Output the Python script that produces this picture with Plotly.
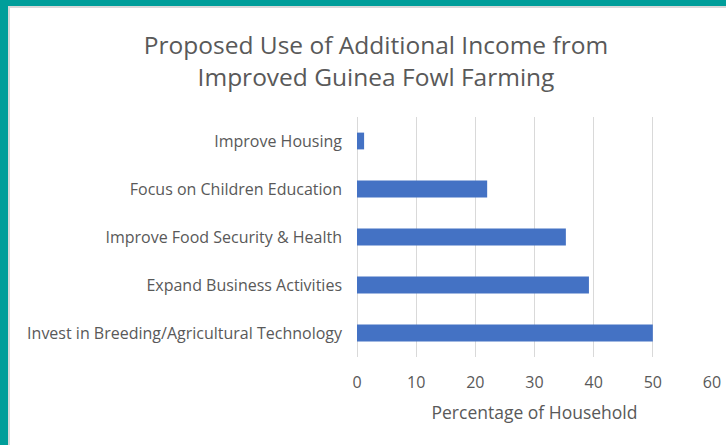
import plotly.graph_objects as go

categories = [
    "Invest in Breeding/Agricultural Technology",
    "Expand Business Activities",
    "Improve Food Security & Health",
    "Focus on Children Education",
    "Improve Housing",
]
values = [50.0, 39.2, 35.3, 22.0, 1.2]
x_ticks = [0, 10, 20, 30, 40, 50, 60]

W, H = 726, 445
L, R, T, B = 357, 14, 117, 88
pw, ph = W - L - R, H - T - B

def px_x(p):
    return (p - L) / pw

def px_y(p):
    return 1 - (p - T) / ph

fig = go.Figure(go.Bar(
    y=categories, x=values, orientation="h",
    marker=dict(color="#4472C4", line=dict(width=0)),
    width=0.35,
))

font = "Open Sans, Calibri, sans-serif"
teal = "#009E9A"
grid = "#D9D9D9"
shapes = [
    dict(type="rect", xref="paper", yref="paper", x0=px_x(0), x1=px_x(8), y0=px_y(445), y1=px_y(0),
         fillcolor=teal, line_width=0, layer="below"),
    dict(type="rect", xref="paper", yref="paper", x0=px_x(0), x1=px_x(726), y0=px_y(6), y1=px_y(0),
         fillcolor=teal, line_width=0, layer="below"),
    dict(type="rect", xref="paper", yref="paper", x0=px_x(8), x1=px_x(10), y0=px_y(445), y1=px_y(6),
         fillcolor=grid, line_width=0, layer="below"),
    dict(type="rect", xref="paper", yref="paper", x0=px_x(8), x1=px_x(726), y0=px_y(8), y1=px_y(6),
         fillcolor=grid, line_width=0, layer="below"),
]

fig.update_layout(
    width=W, height=H,
    margin=dict(l=L, r=R, t=T, b=B, autoexpand=False),
    paper_bgcolor="white", plot_bgcolor="white",
    showlegend=False,
    shapes=shapes,
    title=dict(
        text="Proposed Use of Additional Income from<br>Improved Guinea Fowl Farming",
        x=376 / W, xanchor="center",
        y=1 - 54 / H, yanchor="middle",
        font=dict(family=font, size=24.5, color="#595959"),
    ),
    xaxis=dict(
        range=[0, 60], tickvals=x_ticks, showgrid=True, gridcolor=grid, gridwidth=1.3,
        zeroline=True, zerolinecolor=grid, zerolinewidth=1.3,
        showline=False, ticks="", automargin=False,
        tickfont=dict(family=font, size=16, color="#595959"),
        ticklabelstandoff=14,
        title=dict(text="Percentage of Household", font=dict(family=font, size=17.5, color="#595959"),
                   standoff=14),
    ),
    yaxis=dict(
        showgrid=False, zeroline=False, showline=False, ticks="", automargin=False,
        tickfont=dict(family=font, size=16, color="#595959"),
        ticklabelstandoff=14,
    ),
    bargap=0.65,
)

fig.write_html(
    "out.html",
    config={"displayModeBar": False},
    post_script="document.body.style.margin='0';document.body.style.overflow='hidden';",
)
